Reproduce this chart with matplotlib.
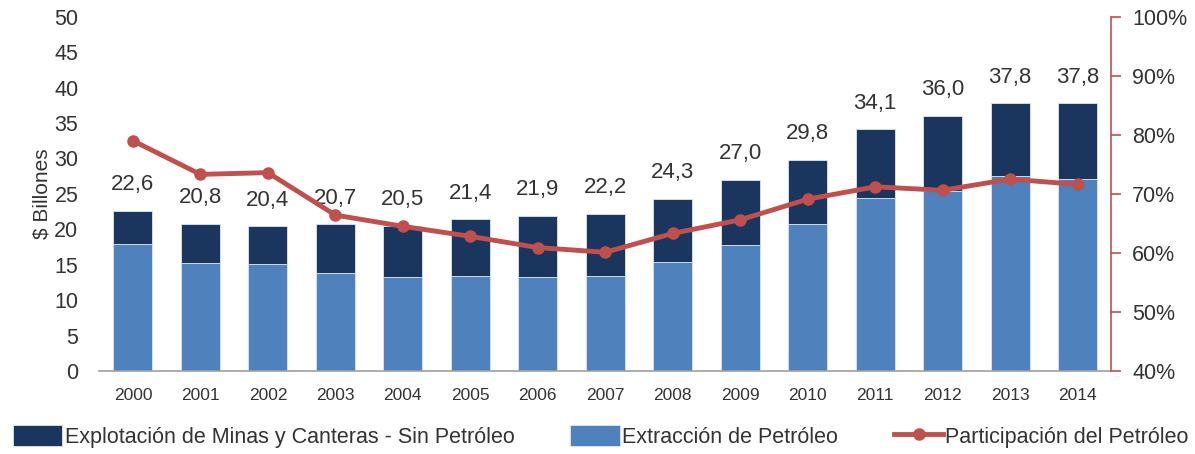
import matplotlib.pyplot as plt
import numpy as np

plt.rcParams['font.family'] = ['Liberation Sans', 'DejaVu Sans']

years = ['2000', '2001', '2002', '2003', '2004', '2005', '2006', '2007',
         '2008', '2009', '2010', '2011', '2012', '2013', '2014']
# extraccion de petroleo (billones)
petroleo = [17.9, 15.2, 15.1, 13.8, 13.2, 13.4, 13.3, 13.4,
            15.4, 17.8, 20.7, 24.4, 25.4, 27.5, 27.1]
# total sector
totales = [22.6, 20.8, 20.4, 20.7, 20.5, 21.4, 21.9, 22.2,
           24.3, 27.0, 29.8, 34.1, 36.0, 37.8, 37.8]
# participacion del petroleo (%)
participacion = [79.0, 73.3, 73.6, 66.4, 64.5, 62.8, 60.9, 60.1,
                 63.3, 65.6, 69.1, 71.2, 70.6, 72.5, 71.6]

minas = [t - p for t, p in zip(totales, petroleo)]

c_dark = '#1a365e'
c_light = '#4f81bd'
c_red = '#c0504d'
c_txt = '#333333'

fig = plt.figure(figsize=(11.95, 4.54), dpi=100)
ax = fig.add_axes([0.083, 0.183, 0.847, 0.78])
x = np.arange(len(years))

b1 = ax.bar(x, petroleo, width=0.58, color=c_light, edgecolor='#dde6f0', linewidth=0.6,
            label='Extracción de Petróleo', zorder=2)
b2 = ax.bar(x, minas, width=0.58, bottom=petroleo, color=c_dark, edgecolor='#dde6f0',
            linewidth=0.6, label='Explotación de Minas y Canteras - Sin Petróleo', zorder=2)

for xi, t in zip(x, totales):
    ax.text(xi, t + 2.2, f'{t:.1f}'.replace('.', ','), ha='center', va='bottom',
            fontsize=16, color=c_txt)

ax.set_xlim(-0.5, len(years) - 0.5)
ax.set_ylim(0, 50)
ax.set_yticks(range(0, 51, 5))
ax.set_xticks(x)
ax.set_xticklabels(years)
ax.tick_params(axis='y', length=0, labelsize=15.5, labelcolor=c_txt, pad=15)
ax.tick_params(axis='x', length=0, labelsize=12.5, labelcolor=c_txt, pad=12)
ax.set_ylabel('$ Billones', fontsize=15, color=c_txt, labelpad=2)
for s in ['top', 'right', 'left']:
    ax.spines[s].set_visible(False)
ax.spines['bottom'].set_color('#a0a0a0')
ax.spines['bottom'].set_linewidth(1.2)

ax2 = ax.twinx()
ln, = ax2.plot(x, participacion, color=c_red, linewidth=3.5, marker='o', markersize=8,
               label='Participación del Petróleo', zorder=3)
ax2.set_ylim(40, 100)
ax2.set_yticks(range(40, 101, 10))
ax2.set_yticklabels([f'{v}%' for v in range(40, 101, 10)])
ax2.tick_params(axis='y', colors=c_red, labelcolor=c_txt, labelsize=15.5, length=7,
                width=1.2, direction='out', pad=8)
for s in ['top', 'left', 'bottom']:
    ax2.spines[s].set_visible(False)
ax2.spines['right'].set_color(c_red)
ax2.spines['right'].set_linewidth(1.2)

fig.legend(handles=[b2, b1, ln], loc='lower left', bbox_to_anchor=(0.0, -0.015),
           ncol=3, frameon=False, fontsize=15.5, handlelength=2.3, handleheight=1.1,
           handletextpad=0.1, columnspacing=2.6, labelcolor=c_txt, borderaxespad=0.2)

plt.savefig('out.png', dpi=100)
